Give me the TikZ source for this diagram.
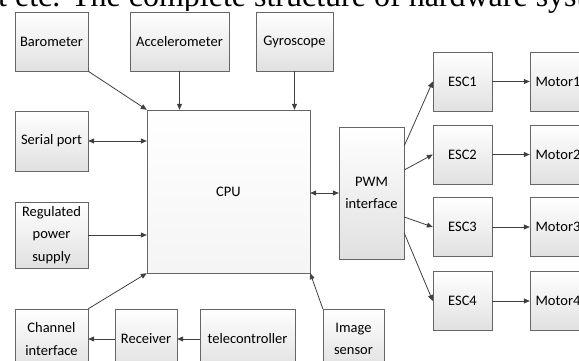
\documentclass[tikz,border=0pt]{standalone}
\usepackage{fontspec}
\setmainfont{Carlito}
\newfontfamily\bodyserif{Liberation Serif}
\usetikzlibrary{arrows.meta,shadows}

\begin{document}
\begin{tikzpicture}[x=1pt,y=-1pt,
  box/.style={draw=black!60,align=center,inner sep=2pt,
     font=\fontsize{14.5}{22.7}\selectfont,
     minimum width=73pt,minimum height=59pt,
     top color=white,bottom color=#1,
     drop shadow={shadow xshift=0.8pt,shadow yshift=-0.8pt,opacity=0.25,fill=black}},
  box/.default=black!12,
  arr/.style={-{Triangle[length=6pt,width=5pt]},draw=black!75,line width=0.8pt},
  both/.style={arr,{Triangle[length=6pt,width=5pt]}-{Triangle[length=6pt,width=5pt]}}]
\useasboundingbox (0,0) rectangle (579,361);
\clip (0,0) rectangle (579,361);
\node[anchor=base west,inner sep=0,font=\bodyserif\fontsize{32}{32}\selectfont] (head) at (-2,7) {t etc. The complete structure of hardware syst};
% sensors on top
\node[box] (baro) at (51.5,41.5) {Barometer};
\node[box,minimum width=99pt] (accel) at (179.5,41.5) {Accelerometer};
\node[box,minimum width=77pt] (gyro) at (294.5,41.5) {Gyroscope};
% left column
\node[box,minimum height=60pt] (serial) at (51.5,141) {Serial port};
\node[box,minimum height=66pt] (power) at (51.5,235) {Regulated\\ power\\ supply};
\node[box,minimum height=60pt] (chan) at (51.5,339) {Channel\\ interface};
% bottom row
\node[box,minimum width=62pt,minimum height=60pt] (recv) at (146,339) {Receiver};
\node[box,minimum width=95pt,minimum height=60pt] (tele) at (247.5,339) {telecontroller};
\node[box,minimum width=61pt,minimum height=60pt] (img) at (353.5,339) {Image\\ sensor};
% cpu and pwm
\node[box=black!4,minimum width=163pt,minimum height=163pt] (cpu) at (228.5,191.5) {CPU};
\node[box,minimum width=65pt,minimum height=132pt] (pwm) at (371.5,193) {PWM\\ interface};
% escs and motors
\node[box,minimum width=59pt] (esc1) at (462.5,81.5) {ESC1};
\node[box,minimum width=59pt] (esc2) at (462.5,154.5) {ESC2};
\node[box,minimum width=59pt] (esc3) at (462.5,227) {ESC3};
\node[box,minimum width=59pt] (esc4) at (462.5,301) {ESC4};
\node[box,minimum width=56pt] (mot1) at (558,81.5) {Motor1};
\node[box,minimum width=56pt] (mot2) at (558,154.5) {Motor2};
\node[box,minimum width=56pt] (mot3) at (558,227) {Motor3};
\node[box,minimum width=56pt] (mot4) at (558,301) {Motor4};
\draw[arr] (baro.south east) -- (cpu.north west);
\draw[arr] (accel.south) -- (accel.south |- cpu.north);
\draw[arr] (gyro.south) -- (gyro.south |- cpu.north);
\draw[both] (serial) -- (serial -| cpu.west);
\draw[arr] (power) -- (power -| cpu.west);
\draw[arr] (chan.north east) -- (cpu.south west);
\draw[arr] (tele) -- (recv);
\draw[arr] (recv) -- (chan);
\draw[arr] (img.north west) -- (cpu.south east);
\draw[both] (cpu.east |- pwm.west) -- (pwm.west);
\draw[arr] ([yshift=47pt]pwm.east) -- (esc1.west);
\draw[arr] ([yshift=23pt]pwm.east) -- (esc2.west);
\draw[arr] ([yshift=-24pt]pwm.east) -- (esc3.west);
\draw[arr] ([yshift=-40pt]pwm.east) -- (esc4.west);
\draw[arr] (esc1) -- (mot1);
\draw[arr] (esc2) -- (mot2);
\draw[arr] (esc3) -- (mot3);
\draw[arr] (esc4) -- (mot4);
\end{tikzpicture}
\end{document}
